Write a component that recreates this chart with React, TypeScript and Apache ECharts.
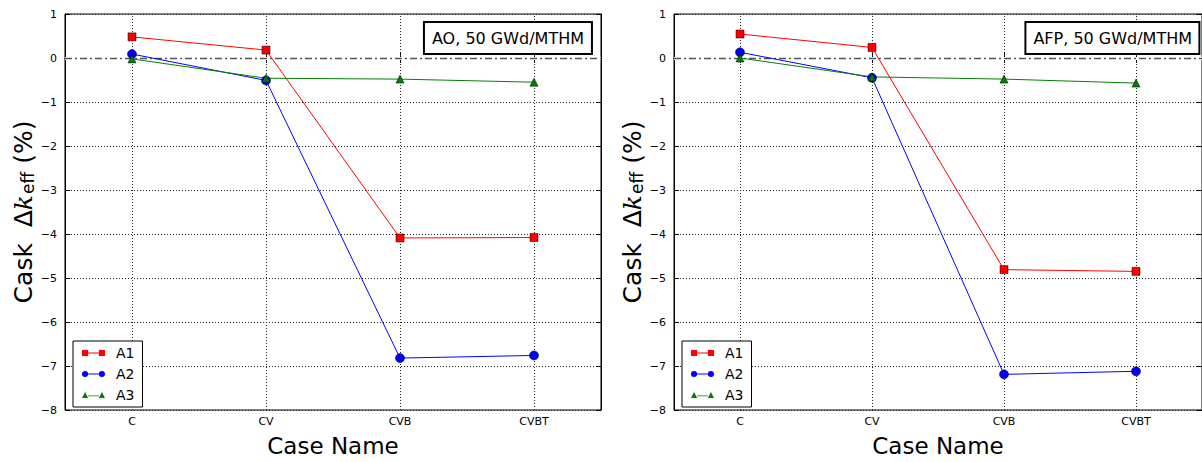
import React, { useEffect, useRef } from "react";
import * as echarts from "echarts";

const categories = ["C", "CV", "CVB", "CVBT"];
const seriesNames = ["A1", "A2", "A3"];
const aoA1 = [0.48, 0.18, -4.09, -4.08];
const aoA2 = [0.09, -0.51, -6.82, -6.76];
const aoA3 = [-0.02, -0.46, -0.48, -0.55];
const afpA1 = [0.545, 0.24, -4.81, -4.85];
const afpA2 = [0.13, -0.45, -7.19, -7.12];
const afpA3 = [0.0, -0.43, -0.48, -0.57];
const panelTitles = ["AO, 50 GWd/MTHM", "AFP, 50 GWd/MTHM"];
const yMin = -8;
const yMax = 1;

const FONT = "DejaVu Sans";
const colors = ["#ff0000", "#0000ff", "#008000"];
const symbols = ["rect", "circle", "triangle"];
const legendIcons = [
  "path://M0,0h8v8h-8z M8,3.5h14v1h-14z M22,0h8v8h-8z",
  "path://M0,4a4,4 0 1,0 8,0a4,4 0 1,0 -8,0z M8,3.5h14v1h-14z M22,4a4,4 0 1,0 8,0a4,4 0 1,0 -8,0z",
  "path://M0,8L4,0L8,8z M8,4.5h14v1h-14z M22,8L26,0L30,8z",
];

const gridLeft = [65, 674];
const gridWidth = 536;

export default function App() {
  const ref = useRef<HTMLDivElement>(null);
  useEffect(() => {
    if (!ref.current) return;
    const chart = echarts.init(ref.current, null, { renderer: "svg" });
    const panels = [
      [aoA1, aoA2, aoA3],
      [afpA1, afpA2, afpA3],
    ];
    const grids = gridLeft.map((l) => ({
      left: l,
      top: 14,
      width: gridWidth,
      height: 400,
      show: true,
      borderColor: "#000",
      borderWidth: 1,
      backgroundColor: "transparent",
    }));
    const xAxes: any[] = [];
    const yAxes: any[] = [];
    gridLeft.forEach((_, i) => {
      xAxes.push({
        type: "category",
        gridIndex: i,
        data: categories,
        boundaryGap: true,
        axisLine: { show: true, lineStyle: { color: "#000", width: 1 } },
        axisTick: { show: true, alignWithLabel: true, inside: true, length: 5, lineStyle: { color: "#000" } },
        axisLabel: { fontFamily: FONT, fontSize: 11, color: "#000", margin: 6 },
        splitLine: { show: false },
        name: "Case Name",
        nameLocation: "middle",
        nameGap: 24,
        nameTextStyle: { fontFamily: FONT, fontSize: 23, color: "#000", verticalAlign: "top" },
      });
    });
    gridLeft.forEach((_, i) => {
      xAxes.push({
        type: "category",
        gridIndex: i,
        position: "top",
        data: categories,
        boundaryGap: true,
        axisLine: { show: true, lineStyle: { color: "#000", width: 1 } },
        axisTick: { show: true, alignWithLabel: true, inside: true, length: 5, lineStyle: { color: "#000" } },
        axisLabel: { show: false },
        splitLine: { show: false },
      });
    });
    gridLeft.forEach((_, i) => {
      yAxes.push({
        type: "value",
        gridIndex: i,
        min: yMin,
        max: yMax,
        interval: 1,
        axisLine: { show: true, lineStyle: { color: "#000", width: 1 } },
        axisTick: { show: true, inside: true, length: 5, lineStyle: { color: "#000" } },
        axisLabel: {
          fontFamily: FONT,
          fontSize: 11,
          color: "#000",
          margin: 8,
          formatter: (v: number) => String(v).replace("-", "\u2212"),
        },
        splitLine: { show: true, lineStyle: { color: "#222", type: [1, 2], width: 1 } },
        name: "{a|Cask  \u0394}{k|k}{s|eff}{a| (%)}",
        nameLocation: "middle",
        nameRotate: 90,
        nameGap: 28,
        nameTextStyle: {
          fontFamily: FONT,
          fontSize: 25,
          color: "#000",
          rich: {
            a: { fontFamily: FONT, fontSize: 25, color: "#000" },
            k: { fontFamily: "DejaVu Serif", fontStyle: "italic", fontSize: 25, color: "#000" },
            s: { fontFamily: FONT, fontSize: 17, color: "#000", padding: [9, 0, 0, 1] },
          },
        },
      });
    });
    gridLeft.forEach((_, i) => {
      yAxes.push({
        type: "value",
        gridIndex: i,
        position: "right",
        min: yMin,
        max: yMax,
        interval: 1,
        axisLine: { show: true, lineStyle: { color: "#000", width: 1 } },
        axisTick: { show: true, inside: true, length: 5, lineStyle: { color: "#000" } },
        axisLabel: { show: false },
        splitLine: { show: false },
      });
    });
    const series: any[] = [];
    panels.forEach((vals, p) => {
      vals.forEach((data, si) => {
        const s: any = {
          type: "line",
          name: seriesNames[si],
          xAxisIndex: p,
          yAxisIndex: p,
          data,
          symbol: symbols[si],
          symbolSize: si === 1 ? 9 : 8,
          lineStyle: { color: colors[si], width: 1 },
          itemStyle: { color: colors[si], borderColor: "#000", borderWidth: 0.5 },
          z: 3,
        };
        if (si === 0) {
          s.markLine = {
            silent: true,
            symbol: "none",
            label: { show: false },
            lineStyle: { color: "#222", type: [1, 2], width: 1 },
            data: categories.map((c) => ({ xAxis: c })),
            z: 1,
          };
        }
        if (si === 1) {
          s.markLine = {
            silent: true,
            symbol: "none",
            label: { show: false },
            data: [
              { yAxis: 0, lineStyle: { color: "#fff", type: "solid", width: 3 } },
              { yAxis: 0, lineStyle: { color: "#555", type: [7, 3, 2, 3], width: 1.3 } },
            ],
            z: 1,
          };
        }
        series.push(s);
      });
    });
    const legends = gridLeft.map((l) => ({
      orient: "vertical",
      left: l + 8,
      top: 341,
      padding: [5, 8, 5, 9],
      borderColor: "#000",
      borderWidth: 1,
      backgroundColor: "#fff",
      itemWidth: 23,
      itemHeight: 8,
      itemGap: 7,
      textStyle: { fontFamily: FONT, fontSize: 14, color: "#000", padding: [0, 0, 0, 6] },
      itemStyle: { borderWidth: 0 },
      data: seriesNames.map((n, i) => ({ name: n, icon: legendIcons[i] })),
    }));
    const titles = panelTitles.map((t, i) => ({
      text: t,
      right: i === 0 ? 1202 - 592 : 2,
      top: 22,
      borderColor: "#000",
      borderWidth: 2,
      padding: [8, 8, 8, 8],
      backgroundColor: "#fff",
      textStyle: { fontFamily: FONT, fontSize: 16, fontWeight: "normal", color: "#000" },
    }));
    chart.setOption({
      animation: false,
      backgroundColor: "#fff",
      textStyle: { fontFamily: FONT },
      title: titles,
      legend: legends,
      grid: grids,
      xAxis: xAxes,
      yAxis: yAxes,
      series,
    });
    return () => chart.dispose();
  }, []);
  return (
    <div
      ref={ref}
      style={{ position: "fixed", left: 0, top: 0, width: 1202, height: 462 }}
    />
  );
}
